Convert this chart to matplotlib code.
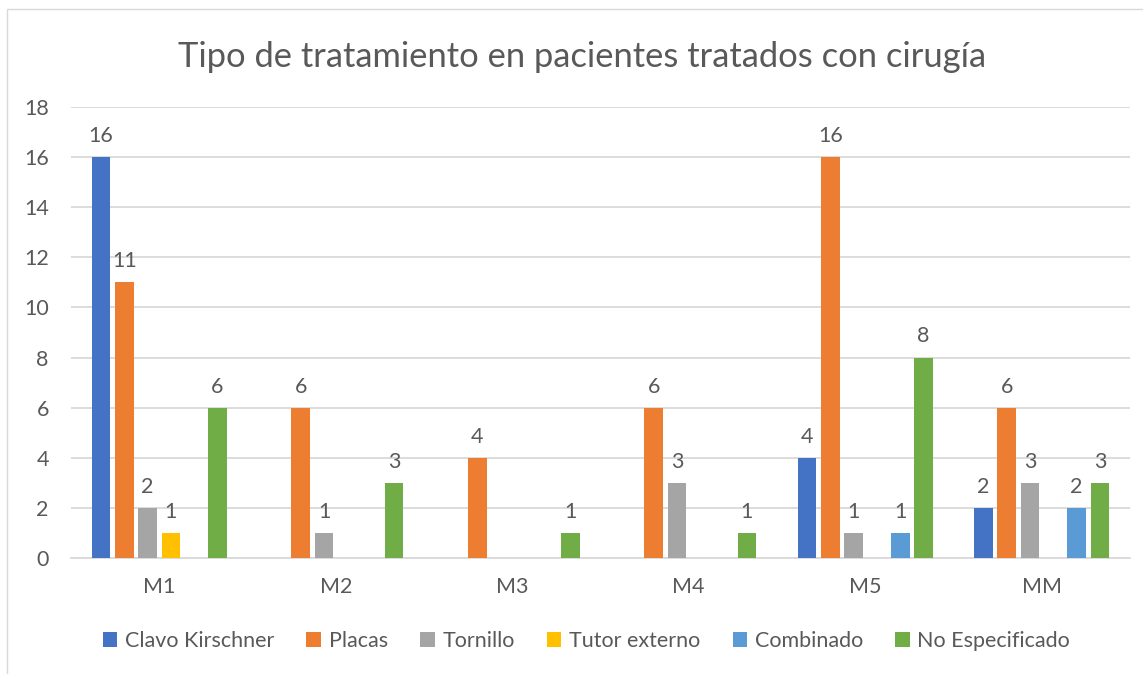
import matplotlib
matplotlib.use("Agg")
import matplotlib.pyplot as plt
import numpy as np
from matplotlib.patches import Rectangle

categories = ["M1", "M2", "M3", "M4", "M5", "MM"]
series_names = ["Clavo Kirschner", "Placas", "Tornillo", "Tutor externo", "Combinado", "No Especificado"]
clavo = [16, 0, 0, 0, 4, 2]
placas = [11, 6, 4, 6, 16, 6]
tornillo = [2, 1, 0, 3, 1, 3]
tutor = [1, 0, 0, 0, 0, 0]
combinado = [0, 0, 0, 0, 1, 2]
no_espec = [6, 3, 1, 1, 8, 3]
colors = ["#4472C4", "#ED7D31", "#A5A5A5", "#FFC000", "#5B9BD5", "#70AD47"]

TEXT = "#595959"
FS = 15.5
plt.rcParams["font.family"] = ["Lato", "DejaVu Sans"]

fig = plt.figure(figsize=(11.43, 6.74), dpi=100)
fig.patches.append(Rectangle((7 / 1143, -0.1), 1.2, 1 - 9 / 674 + 0.1, transform=fig.transFigure,
                             fill=False, edgecolor="#D9D9D9", linewidth=1))
ax = fig.add_axes([0.0621, 0.1721, 0.9265, 0.6691])

x = np.arange(len(categories))
step = 0.132
width = 0.106
all_series = [clavo, placas, tornillo, tutor, combinado, no_espec]
for j, (name, vals, col) in enumerate(zip(series_names, all_series, colors)):
    pos = x + (j - 2.5) * step
    ax.bar(pos, vals, width=width, color=col, label=name, zorder=3)
    for p, v in zip(pos, vals):
        if v:
            ax.annotate(str(v), (p, v), xytext=(0, 8), textcoords="offset points",
                        ha="center", va="bottom", fontsize=FS, color=TEXT)

ax.set_xlim(-0.5, len(categories) - 0.5)
ax.set_ylim(0, 18)
ax.set_yticks(range(0, 19, 2))
ax.set_xticks(x)
ax.set_xticklabels(categories)
ax.grid(axis="y", color="#D9D9D9", linewidth=1.3, zorder=0)
for s in ["top", "right", "left"]:
    ax.spines[s].set_visible(False)
ax.spines["bottom"].set_color("#D9D9D9")
ax.spines["bottom"].set_linewidth(1.3)
ax.tick_params(axis="both", length=0, labelsize=FS, colors=TEXT)
ax.tick_params(axis="y", pad=16)
ax.tick_params(axis="x", pad=14)

fig.text(0.509, 0.915, "Tipo de tratamiento en pacientes tratados con cirugía",
         ha="center", va="center", fontsize=24.8, color=TEXT)

leg = fig.legend(loc="center", bbox_to_anchor=(0.513, 0.049), ncol=6, frameon=False,
                 fontsize=FS, handlelength=0.68, handleheight=0.68, handletextpad=0.35,
                 columnspacing=1.5)
for t in leg.get_texts():
    t.set_color(TEXT)

fig.savefig("out.png", dpi=100)
